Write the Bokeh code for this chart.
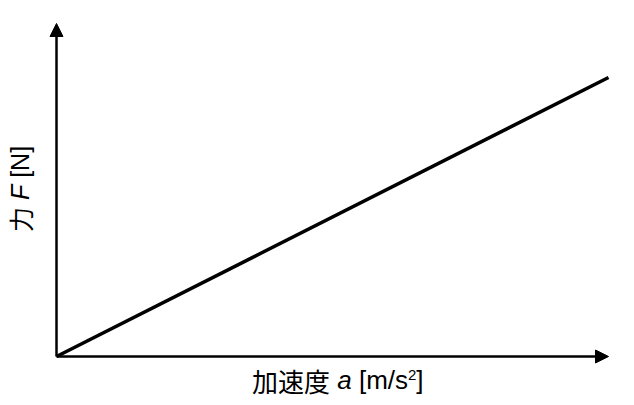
import math
from bokeh.plotting import figure
from bokeh.models import Arrow, NormalHead, Label, Range1d
from bokeh.embed import file_html
from bokeh.resources import INLINE

# data (arbitrary units: force proportional to acceleration)
accel = [0.0, 10.0]
force = [0.0, 5.0]

x_label_cjk = "加速度"
x_label_sym = "a"
x_label_unit = "[m/s"
x_label_sup = "2"
x_label_close = "]"
y_label_cjk = "力"
y_label_sym = "F"
y_label_unit = "[N]"

CJK = "Noto Sans CJK JP"
LAT = "Liberation Sans"

x_axis_end = max(accel)
y_axis_end = 5.968

p = figure(width=634, height=405, output_backend="svg", toolbar_location=None,
           x_range=Range1d(-1.0145, 10.471), y_range=Range1d(-0.8781, 6.3799),
           x_axis_location=None, y_axis_location=None, min_border=0,
           background_fill_color="white", border_fill_color="white")
p.grid.visible = False
p.outline_line_color = None

p.line(accel, force, line_width=3.5, line_color="black")

p.add_layout(Arrow(x_start=0, y_start=0, x_end=x_axis_end, y_end=0, line_width=2.5,
                   line_color="black",
                   end=NormalHead(size=13, fill_color="black", line_color="black")))
p.add_layout(Arrow(x_start=0, y_start=0, x_end=0, y_end=y_axis_end, line_width=2.5,
                   line_color="black",
                   end=NormalHead(size=13, fill_color="black", line_color="black")))

fs = 26
sp = 0.278 * fs
x0 = 251.5
yb = 25.5
def lab(text, x, y, font, size, style="normal", angle=0.0):
    p.add_layout(Label(x=x, y=y, x_units="screen", y_units="screen", text=text,
                       text_font=font, text_font_size=f"{size}px", text_font_style=style,
                       text_baseline="alphabetic", text_align="left", angle=angle,
                       text_color="black"))

lab(x_label_cjk, x0, yb, CJK, fs)
xa = x0 + 3 * fs + sp
lab(x_label_sym, xa, yb, LAT, fs, "italic")
xu = xa + 0.556 * fs + sp
lab(x_label_unit, xu, yb, LAT, fs)
xs = xu + (0.278 + 0.833 + 0.278 + 0.5) * fs
lab(x_label_sup, xs, yb + 5.5, LAT, 15)
xc = xs + 0.556 * 15
lab(x_label_close, xc, yb, LAT, fs)

fy = 25
spy = 0.278 * fy
y0 = 173.5
xb = 19
lab(y_label_cjk, xb, y0, CJK, fy, angle=math.pi / 2)
yF = y0 + fy + spy
lab(y_label_sym, xb, yF, LAT, fy, "italic", angle=math.pi / 2)
yN = yF + 0.611 * fy + spy
lab(y_label_unit, xb, yN, LAT, fy, angle=math.pi / 2)

open("out.html", "w").write(file_html(p, INLINE))
